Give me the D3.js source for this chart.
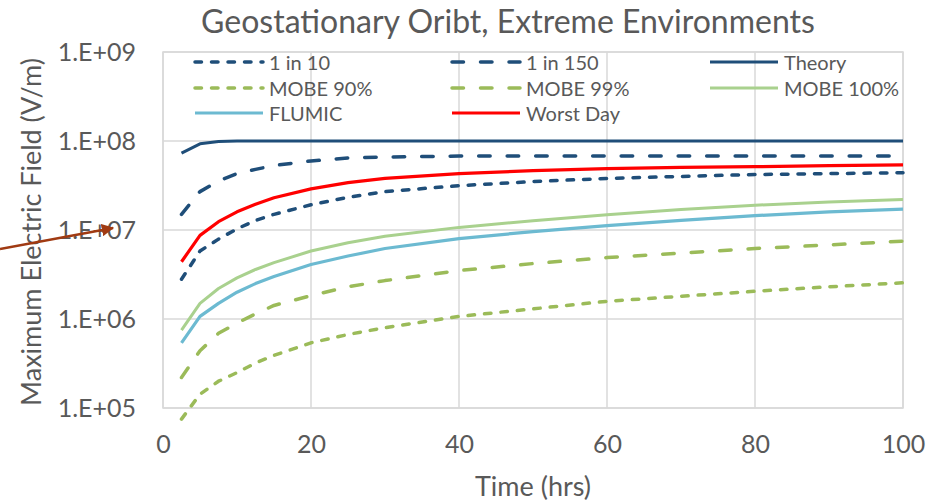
<!DOCTYPE html>
<html>
<head>
<meta charset="utf-8">
<script src="https://cdn.jsdelivr.net/npm/d3@7"></script>
<style>
  body { margin: 0; background: #fff; }
  text { font-family: Lato, "Open Sans", sans-serif; fill: #595959; }
</style>
</head>
<body>
<div id="chart"></div>
<script>
// time axis (hrs)
const hours = [2.5, 5, 7.5, 10, 12.5, 15, 20, 25, 30, 40, 50, 60, 70, 80, 90, 100];

// series values (V/m)
const oneIn10   = [2.8e6, 5.8e6, 7.9e6, 1.03e7, 1.28e7, 1.5e7, 1.92e7, 2.33e7, 2.7e7, 3.15e7, 3.5e7, 3.8e7, 4.0e7, 4.2e7, 4.3e7, 4.4e7];
const oneIn150  = [1.5e7, 2.7e7, 3.55e7, 4.3e7, 4.8e7, 5.3e7, 5.97e7, 6.45e7, 6.6e7, 6.78e7, 6.8e7, 6.8e7, 6.8e7, 6.8e7, 6.8e7, 6.8e7];
const theory    = [7.3e7, 9.3e7, 9.9e7, 1e8, 1e8, 1e8, 1e8, 1e8, 1e8, 1e8, 1e8, 1e8, 1e8, 1e8, 1e8, 1e8];
const mobe90    = [7.5e4, 1.43e5, 2.0e5, 2.5e5, 3.2e5, 3.9e5, 5.4e5, 6.7e5, 8.0e5, 1.07e6, 1.3e6, 1.58e6, 1.8e6, 2.05e6, 2.3e6, 2.55e6];
const mobe99    = [2.2e5, 4.4e5, 6.9e5, 9.0e5, 1.14e6, 1.42e6, 1.83e6, 2.3e6, 2.7e6, 3.5e6, 4.2e6, 4.9e6, 5.5e6, 6.2e6, 6.8e6, 7.5e6];
const mobe100   = [7.5e5, 1.5e6, 2.2e6, 2.9e6, 3.6e6, 4.3e6, 5.8e6, 7.2e6, 8.5e6, 1.07e7, 1.27e7, 1.48e7, 1.7e7, 1.9e7, 2.07e7, 2.2e7];
const flumic    = [5.4e5, 1.07e6, 1.5e6, 2.0e6, 2.5e6, 3.0e6, 4.1e6, 5.1e6, 6.2e6, 8.0e6, 9.6e6, 1.12e7, 1.28e7, 1.45e7, 1.6e7, 1.72e7];
const worstDay  = [4.4e6, 8.7e6, 1.24e7, 1.6e7, 1.95e7, 2.3e7, 2.9e7, 3.4e7, 3.8e7, 4.3e7, 4.65e7, 4.9e7, 5.05e7, 5.15e7, 5.28e7, 5.4e7];

const seriesNames = ['1 in 10', '1 in 150', 'Theory', 'MOBE 90%', 'MOBE 99%', 'MOBE 100%', 'FLUMIC', 'Worst Day'];
const xTicks = [0, 20, 40, 60, 80, 100];
const yTicks = [1e5, 1e6, 1e7, 1e8, 1e9];

const titleText = 'Geostationary Oribt, Extreme Environments';
const xTitle = 'Time (hrs)';
const yTitle = 'Maximum Electric Field (V/m)';

// styles per series
const navy = '#1F4E79', oliveGreen = '#9BBB59', lightGreen = '#A9D18E', lightBlue = '#6CBAD1', red = '#FF0000';
const shortDash = '6.5,10', longDash = '11.5,17';
const styles = [
  { color: navy,       dash: shortDash, width: 3.5 },
  { color: navy,       dash: longDash,  width: 3.5 },
  { color: navy,       dash: null,      width: 3 },
  { color: oliveGreen, dash: shortDash, width: 3.5 },
  { color: oliveGreen, dash: longDash,  width: 3.5 },
  { color: lightGreen, dash: null,      width: 3 },
  { color: lightBlue,  dash: null,      width: 3.2 },
  { color: red,        dash: null,      width: 3.2 }
];
const seriesValues = [oneIn10, oneIn150, theory, mobe90, mobe99, mobe100, flumic, worstDay];

const width = 932, height = 502;
const margins = { top: 52, bottom: 94, left: 163, right: 29 };

const svg = d3.select('#chart').append('svg')
  .attr('width', width)
  .attr('height', height);

const xScale = d3.scaleLinear().domain([0, 100]).range([margins.left, width - margins.right]);
const yScale = d3.scaleLog().domain([1e5, 1e9]).range([height - margins.bottom, margins.top]);

// gridlines
const grid = svg.append('g').attr('class', 'grid');
grid.selectAll('.vgrid').data(xTicks).join('line')
  .attr('x1', d => xScale(d)).attr('x2', d => xScale(d))
  .attr('y1', yScale.range()[0]).attr('y2', yScale.range()[1])
  .attr('stroke', '#D9D9D9').attr('stroke-width', 1.5);
grid.selectAll('.hgrid').data(yTicks).join('line')
  .attr('x1', xScale.range()[0]).attr('x2', xScale.range()[1])
  .attr('y1', d => yScale(d)).attr('y2', d => yScale(d))
  .attr('stroke', '#D9D9D9').attr('stroke-width', 1.5);
grid.append('rect')
  .attr('x', xScale.range()[0]).attr('y', yScale.range()[1])
  .attr('width', xScale.range()[1] - xScale.range()[0])
  .attr('height', yScale.range()[0] - yScale.range()[1])
  .attr('fill', 'none').attr('stroke', '#D9D9D9').attr('stroke-width', 1.5);

// axes (labels only)
const xAxisGroup = svg.append('g')
  .attr('transform', `translate(0,${height - margins.bottom})`)
  .call(d3.axisBottom(xScale).tickValues(xTicks).tickSize(0).tickPadding(27));
const yAxisGroup = svg.append('g')
  .attr('transform', `translate(${margins.left},0)`)
  .call(d3.axisLeft(yScale).tickValues(yTicks).tickSize(0).tickPadding(27)
    .tickFormat(d => '1.E+' + String(Math.round(Math.log10(d))).padStart(2, '0')));
[xAxisGroup, yAxisGroup].forEach(g => {
  g.select('.domain').remove();
  g.selectAll('text').attr('fill', '#595959').style('font-size', '25px').style('font-family', 'Lato, sans-serif');
});

// lines (straight segments, like the spreadsheet)
const lineGenerator = d3.line()
  .x((d, i) => xScale(hours[i]))
  .y(d => yScale(d));

seriesValues.forEach((values, k) => {
  svg.append('path')
    .datum(values)
    .attr('fill', 'none')
    .attr('stroke', styles[k].color)
    .attr('stroke-width', styles[k].width)
    .attr('stroke-dasharray', styles[k].dash)
    .attr('stroke-linecap', styles[k].dash ? 'round' : 'butt')
    .attr('stroke-linejoin', 'round')
    .attr('d', lineGenerator);
});

// legend
const legendCols = [195, 452, 710], legendRows = [62, 88, 113];
const legend = svg.append('g').attr('class', 'legend');
seriesNames.forEach((name, k) => {
  const lx = legendCols[k % 3], ly = legendRows[Math.floor(k / 3)];
  legend.append('line')
    .attr('x1', lx).attr('x2', lx + 68).attr('y1', ly).attr('y2', ly)
    .attr('stroke', styles[k].color)
    .attr('stroke-width', styles[k].width)
    .attr('stroke-dasharray', styles[k].dash)
    .attr('stroke-linecap', styles[k].dash ? 'round' : 'butt');
  legend.append('text')
    .attr('x', lx + 74).attr('y', ly)
    .attr('dominant-baseline', 'central')
    .style('font-size', '20px')
    .text(name);
});

// title and axis titles
svg.append('text')
  .attr('x', (xScale.range()[0] + xScale.range()[1]) / 2 - 25).attr('y', 33)
  .attr('text-anchor', 'middle')
  .style('font-size', '32px')
  .text(titleText);

svg.append('text')
  .attr('x', (xScale.range()[0] + xScale.range()[1]) / 2).attr('y', 496)
  .attr('text-anchor', 'middle')
  .style('font-size', '27px')
  .text(xTitle);

svg.append('text')
  .attr('transform', `translate(41,232) rotate(-90)`)
  .attr('text-anchor', 'middle')
  .style('font-size', '27px')
  .text(yTitle);

// annotation arrow pointing at the 1.E+07 label
const arrowColor = '#A03A12';
svg.append('defs').append('marker')
  .attr('id', 'arrowhead')
  .attr('viewBox', '0 0 10 10')
  .attr('refX', 9).attr('refY', 5)
  .attr('markerWidth', 5).attr('markerHeight', 5)
  .attr('orient', 'auto')
  .append('path')
  .attr('d', 'M0,0 L10,5 L0,10 z')
  .attr('fill', arrowColor);
svg.append('line')
  .attr('x1', 0).attr('y1', yScale(1e7) + 19)
  .attr('x2', margins.left - 50).attr('y2', yScale(1e7) - 2)
  .attr('stroke', arrowColor)
  .attr('stroke-width', 2.5)
  .attr('marker-end', 'url(#arrowhead)');
</script>
</body>
</html>
